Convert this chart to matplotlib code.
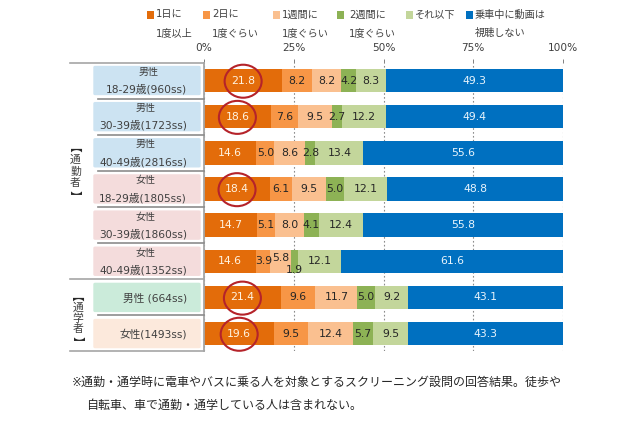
import matplotlib
matplotlib.use("Agg")
import matplotlib.pyplot as plt
from matplotlib.patches import Ellipse, FancyBboxPatch, Rectangle
from matplotlib.lines import Line2D
from matplotlib.textpath import TextPath
from matplotlib.font_manager import FontProperties

plt.rcParams['font.family'] = ['DejaVu Sans', 'Noto Sans CJK JP']

row_line1 = ["男性", "男性", "男性", "女性", "女性", "女性", "", ""]
row_line2 = ["18-29歳(960ss)", "30-39歳(1723ss)", "40-49歳(2816ss)", "18-29歳(1805ss)",
             "30-39歳(1860ss)", "40-49歳(1352ss)", "男性 (664ss)", "女性(1493ss)"]
daily = [21.8, 18.6, 14.6, 18.4, 14.7, 14.6, 21.4, 19.6]
two_days = [8.2, 7.6, 5.0, 6.1, 5.1, 3.9, 9.6, 9.5]
weekly = [8.2, 9.5, 8.6, 9.5, 8.0, 5.8, 11.7, 12.4]
biweekly = [4.2, 2.7, 2.8, 5.0, 4.1, 1.9, 5.0, 5.7]
less = [8.3, 12.2, 13.4, 12.1, 12.4, 12.1, 9.2, 9.5]
never = [49.3, 49.4, 55.6, 48.8, 55.8, 61.6, 43.1, 43.3]
series = [daily, two_days, weekly, biweekly, less, never]
legend_line1 = ["1日に", "2日に", "1週間に", "2週間に", "それ以下", "乗車中に動画は"]
legend_line2 = ["1度以上", "1度ぐらい", "1度ぐらい", "1度ぐらい", "", "視聴しない"]
ticks = [0, 25, 50, 75, 100]
tick_labels = ["0%", "25%", "50%", "75%", "100%"]
highlighted = [0, 1, 3, 6, 7]

colors = ["#E36C0A", "#F79646", "#FAC090", "#8DB255", "#C3D69B", "#0070C0"]
label_colors = ["#FFF3E0", "#262626", "#262626", "#262626", "#262626", "#E8F4FC"]
box_colors = ["#CCE3F2"] * 3 + ["#F4DCDC"] * 3 + ["#CBEBDA", "#FCE9DC"]
text_color = "#404040"
W, H = 640, 426
PITCH = 36.15
TOP, BOTTOM = 62.5, 351.0
X0, X1 = 204.0, 563.0


def fx(p):
    return p / W


def fy(p):
    return 1 - p / H


fig = plt.figure(figsize=(6.4, 4.26), dpi=100, facecolor="white")
ax = fig.add_axes([fx(X0), fy(BOTTOM), (X1 - X0) / W, (BOTTOM - TOP) / H])
ax.set_xlim(0, 100)
# row i is centred on pixel 80.5 + i * PITCH
ax.set_ylim((BOTTOM - 80.5) / PITCH, (TOP - 80.5) / PITCH)
for s in ax.spines.values():
    s.set_visible(False)
ax.set_yticks([])
ax.xaxis.tick_top()
ax.set_xticks(ticks)
ax.set_xticklabels(tick_labels, fontsize=7.6, color=text_color)
ax.tick_params(axis="x", length=3, width=0.7, color="#808080", pad=4)
ax.grid(axis="x", color="#8C8C8C", linestyle=(0, (1.5, 2)), linewidth=0.8)
ax.set_axisbelow(True)

rows = list(range(len(daily)))
left = [0.0] * len(rows)
for k, vals in enumerate(series):
    ax.barh(rows, vals, left=left, height=23.5 / PITCH, color=colors[k], zorder=2)
    for r, v in enumerate(vals):
        dy = 0
        if r == 5 and k == 2:
            dy = -3 / PITCH
        if r == 5 and k == 3:
            dy = 8.5 / PITCH
        ax.text(left[r] + v / 2, r + dy, f"{v:.1f}", ha="center", va="center",
                fontsize=7.8, color=label_colors[k], zorder=4)
    left = [a + b for a, b in zip(left, vals)]

for r in highlighted:
    ax.add_patch(Ellipse((daily[r] / 2, r + 0.02), 37 / 3.59, 33 / PITCH, fill=False,
                         edgecolor="#B5232A", linewidth=1.5, zorder=5, clip_on=False))

# helpers working in pixel coordinates of the figure
def line(x0, y0, x1, y1, color="#A6A6A6", lw=1.2):
    fig.add_artist(Line2D([fx(x0), fx(x1)], [fy(y0), fy(y1)], color=color, linewidth=lw))


def text(x, y, s, **kw):
    kw.setdefault("color", text_color)
    kw.setdefault("va", "center")
    fig.text(fx(x), fy(y), s, **kw)


# axis frame of the row header
line(X0, TOP, X0, BOTTOM, lw=1.3)
line(70, TOP, X0, TOP)
line(70, 279, X0, 279)
line(70, BOTTOM, X0, BOTTOM)
for r in [0, 1, 2, 3, 4, 6]:
    y = 80.5 + (r + 0.5) * PITCH
    line(98, y, X0, y, color="#8C8C8C")

# row header boxes
for r, (l1, l2) in enumerate(zip(row_line1, row_line2)):
    cy = 80.5 + r * PITCH
    fig.add_artist(FancyBboxPatch((fx(94), fy(cy + 14)), 106 / W, 28 / H,
                                  boxstyle="round,pad=0,rounding_size=0.002",
                                  facecolor=box_colors[r], edgecolor=box_colors[r],
                                  linewidth=1, transform=fig.transFigure))
    if l1:
        text(146 + (3 if r == 0 else 0), cy - 8.5, l1, ha="center", fontsize=7.2)
        text(187, cy + 9, l2, ha="right", fontsize=7.7)
    else:
        text(187, cy + 0.5, l2, ha="right", fontsize=7.7)


# group labels, written vertically; brackets are turned glyphs, placed by their ink
def turned_bracket(x, y, ch, size=8.5, nudge=0.0):
    prop = FontProperties(family="Noto Sans CJK JP", size=size)
    ext = TextPath((0, 0), ch, size=size, prop=prop).get_extents()
    k = 100 / 72
    cx, cy = (ext.x1 - ext.x0) / 2 * k, (ext.y0 + ext.y1) / 2 * k
    fig.text(fx(x - cy + nudge), fy(y - cx - 1), ch, ha="left", va="baseline", rotation=-90,
             rotation_mode="anchor", fontproperties=prop, color="#262626")


groups = [(75.5, 150, 192.5, [160, 171.5, 183], "通勤者"),
          (78, 298.5, 338.5, [308, 318.5, 329], "通学者")]
for x, y_open, y_close, ys, chars in groups:
    turned_bracket(x, y_open, "【", nudge=-8)
    for y, c in zip(ys, chars):
        text(x, y, c, ha="center", fontsize=7.8)
    turned_bracket(x, y_close, "】")

# legend
swatch_x = [147, 203, 273, 337, 406, 466]
label_x = [156, 212, 282, 349, 415, 475]
for k in range(6):
    fig.add_artist(Rectangle((fx(swatch_x[k]), fy(18.5)), 7 / W, 7 / H, facecolor=colors[k],
                             edgecolor="none", transform=fig.transFigure))
    text(label_x[k], 14.5, legend_line1[k], ha="left", fontsize=7.3)
    if legend_line2[k]:
        text(label_x[k], 33, legend_line2[k], ha="left", fontsize=7.3)

# footnote
text(72, 382, "※通勤・通学時に電車やバスに乗る人を対象とするスクリーニング設問の回答結果。徒歩や",
     ha="left", fontsize=8.65, color="#262626")
text(86, 405, "自転車、車で通勤・通学している人は含まれない。", ha="left", fontsize=8.65, color="#262626")

fig.savefig("out.png", dpi=100, facecolor="white")
